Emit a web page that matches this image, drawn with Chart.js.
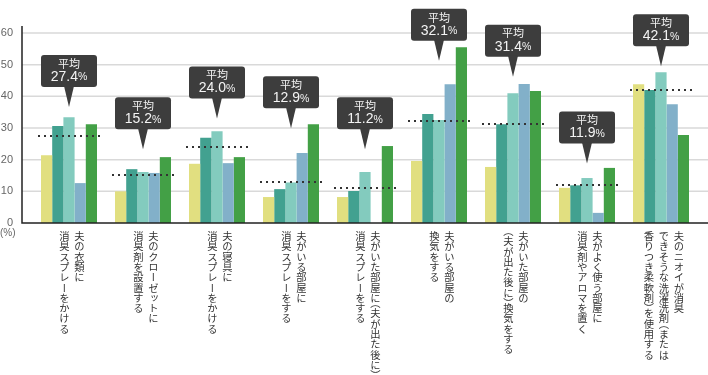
<!DOCTYPE html>
<html>
<head>
<meta charset="utf-8">
<script src="https://cdn.jsdelivr.net/npm/chart.js@4.4.1/dist/chart.umd.min.js"></script>
<style>
  html, body { margin: 0; padding: 0; background: #fff; }
  #wrap { position: relative; width: 708px; height: 375px; overflow: hidden; }
  canvas { position: absolute; left: 0; top: 0; }
  .cat {
    position: absolute; top: 231px;
    writing-mode: vertical-rl; white-space: pre;
    font-family: "Noto Sans CJK JP", sans-serif; font-size: 10.3px;
    line-height: 15px; color: #333;
  }
  .cat .p { font-feature-settings: "vhal" 1; }
  .unit { position: absolute; left: 0; top: 227px; font: 10px "Liberation Sans", Arial, sans-serif; color: #666; }
</style>
</head>
<body>
<div id="wrap">
  <canvas id="chart" width="708" height="375"></canvas>
  <div class="unit">(%)</div>
</div>
<script>
const categories = [
  "夫の衣類に\n消臭スプレーをかける",
  "夫のクローゼットに\n消臭剤を設置する",
  "夫の寝具に\n消臭スプレーをかける",
  "夫がいる部屋に\n消臭スプレーをする",
  "夫がいた部屋に（夫が出た後に）\n消臭スプレーをする",
  "夫がいる部屋の\n換気をする",
  "夫がいた部屋の\n（夫が出た後に）換気をする",
  "夫がよく使う部屋に\n消臭剤やアロマを置く",
  "夫のニオイが消臭\nできそうな洗濯洗剤（または\n香りつき柔軟剤）を使用する"
]

const series1 = [21.4, 10.0, 18.7, 8.2, 8.2, 19.6, 17.7, 11.1, 43.8]
const series2 = [30.6, 17.0, 26.9, 10.7, 10.1, 34.4, 31.2, 11.9, 42.0]
const series3 = [33.4, 16.1, 29.0, 12.8, 16.1, 32.5, 41.0, 14.2, 47.6]
const series4 = [12.6, 15.8, 18.9, 22.1, 0, 43.8, 43.9, 3.2, 37.5]
const series5 = [31.2, 20.8, 20.8, 31.2, 24.3, 55.5, 41.7, 17.4, 27.8]
const averages = [27.4, 15.2, 24.0, 12.9, 11.2, 32.1, 31.4, 11.9, 42.1]

const yTicks = [0, 10, 20, 30, 40, 50, 60]

// where each callout's pointer ends, in axis units
const calloutAt = [36.6, 23.3, 33.0, 29.9, 23.3, 51.2, 46.2, 18.8, 49.5]

const colors = ["#e1df80", "#42a190", "#83cbbe", "#82b0c9", "#43a046"]

/* ---------- gridlines + axis lines ---------- */
const gridPlugin = {
  id: "grid",
  beforeDatasetsDraw(chart) {
    const ctx = chart.ctx
    const y = chart.scales.y
    ctx.save()
    ctx.strokeStyle = "#d9d9d9"
    ctx.lineWidth = 1.5
    yTicks.forEach(v => {
      if (v === 0) return
      const py = y.getPixelForValue(v)
      ctx.beginPath()
      ctx.moveTo(22, py)
      ctx.lineTo(708, py)
      ctx.stroke()
    })
    ctx.restore()
  },
  afterDatasetsDraw(chart) {
    const ctx = chart.ctx
    const base = chart.scales.y.getPixelForValue(0)
    ctx.save()
    ctx.strokeStyle = "#222"
    ctx.lineWidth = 1.5
    ctx.beginPath()
    ctx.moveTo(22, 26)
    ctx.lineTo(22, base)
    ctx.lineTo(708, base)
    ctx.stroke()
    ctx.restore()
  }
}

/* ---------- average dots + callouts ---------- */
const calloutPlugin = {
  id: "callouts",
  afterDraw(chart) {
    const ctx = chart.ctx
    const x = chart.scales.x
    const y = chart.scales.y
    ctx.save()

    averages.forEach((avg, i) => {
      const cx = x.getPixelForValue(i)
      const py = Math.round(y.getPixelForValue(avg))
      ctx.fillStyle = "#333"
      for (let k = 0; k < 11; k++) {
        ctx.fillRect(Math.round(cx - 31 + k * 6), py - 1, 2, 2)
      }

      const tip = y.getPixelForValue(calloutAt[i])
      const bottom = tip - 20
      const top = bottom - 32
      const left = cx - 28
      const w = 56

      ctx.fillStyle = "#3d3d3d"
      ctx.beginPath()
      ctx.roundRect(left, top, w, 32, 3)
      ctx.fill()
      ctx.beginPath()
      ctx.moveTo(cx - 5, bottom - 1)
      ctx.lineTo(cx + 5, bottom - 1)
      ctx.lineTo(cx, tip)
      ctx.closePath()
      ctx.fill()

      ctx.fillStyle = "#f4f4f4"
      ctx.textAlign = "center"
      ctx.textBaseline = "middle"
      ctx.font = '11px "Noto Sans CJK JP", sans-serif'
      ctx.fillText("平均", cx, top + 8.5)

      const num = avg.toFixed(1)
      ctx.font = '14px "Liberation Sans", Arial, sans-serif'
      const nw = ctx.measureText(num).width
      ctx.font = '10.5px "Liberation Sans", Arial, sans-serif'
      const pw = ctx.measureText("%").width
      const sx = cx - (nw + pw) / 2
      ctx.textAlign = "left"
      ctx.font = '14px "Liberation Sans", Arial, sans-serif'
      ctx.fillText(num, sx, top + 22)
      ctx.font = '10.5px "Liberation Sans", Arial, sans-serif'
      ctx.fillText("%", sx + nw, top + 22.5)
    })

    ctx.restore()
  }
}

const chart = new Chart(document.getElementById("chart"), {
  type: "bar",
  data: {
    labels: categories,
    datasets: [series1, series2, series3, series4, series5].map((d, i) => ({
      data: d,
      backgroundColor: colors[i],
      borderWidth: 0
    }))
  },
  options: {
    responsive: false,
    animation: false,
    layout: { padding: { top: 33, right: 10, bottom: 152, left: 0 } },
    plugins: { legend: { display: false }, tooltip: { enabled: false } },
    datasets: { bar: { categoryPercentage: 56 / 74, barPercentage: 1 } },
    scales: {
      x: { display: false },
      y: {
        min: 0,
        max: 60,
        afterBuildTicks: s => { s.ticks = yTicks.map(v => ({ value: v })) },
        ticks: {
          padding: 19,
          color: "#666",
          font: { family: "Liberation Sans", size: 11 }
        },
        grid: { display: false, drawTicks: false },
        border: { display: false },
        afterFit: s => { s.width = 32; s.paddingTop = 0; s.paddingBottom = 0 }
      }
    }
  },
  plugins: [gridPlugin, calloutPlugin]
})

/* ---------- vertical category labels ---------- */
const wrap = document.getElementById("wrap")
categories.forEach((label, i) => {
  const el = document.createElement("div")
  el.className = "cat"
  el.innerHTML = label.replace(/[（）]/g, m => `<span class="p">${m}</span>`)
  wrap.appendChild(el)
  const cx = chart.scales.x.getPixelForValue(i)
  el.style.left = (cx + 3 - el.offsetWidth / 2) + "px"
})
</script>
</body>
</html>
